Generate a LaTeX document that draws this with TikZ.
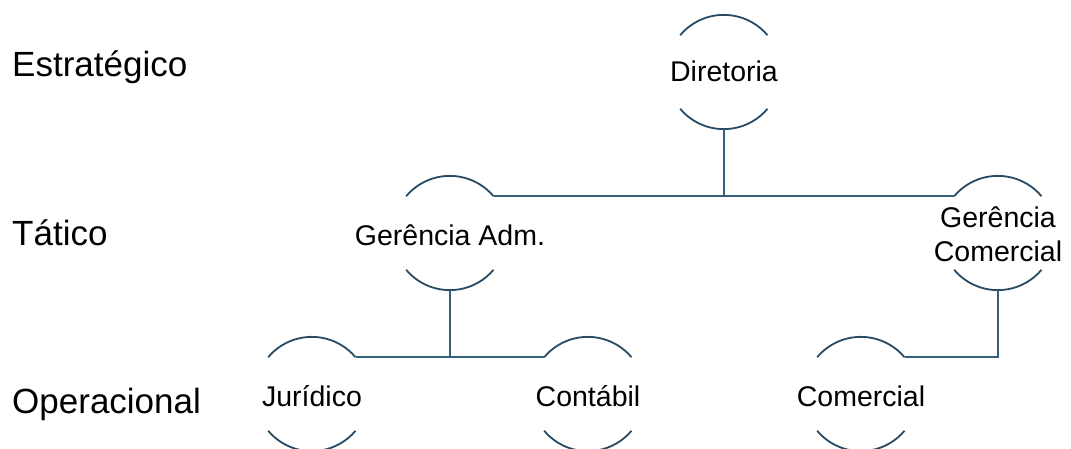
\documentclass[tikz,border=0pt]{standalone}
\usepackage{fontspec}
\setmainfont{Liberation Sans}
\definecolor{lnc}{RGB}{52,96,124}
\definecolor{arcc}{RGB}{40,74,98}
\tikzset{
  unit/.style={circle, minimum size=114pt, inner sep=0pt, draw=none},
  arcline/.style={draw=arcc, line width=1.8pt},
  conn/.style={draw=lnc, line width=2.1pt},
  lvl/.style={anchor=base west, inner sep=0pt, font=\fontsize{35}{40}\selectfont},
  utxt/.style={anchor=base, inner sep=0pt, font=\fontsize{28.5}{34}\selectfont, align=center},
}
\newcommand{\unitarcs}[1]{%
  \draw[arcline] (#1.140) arc[start angle=140, end angle=40, radius=57pt];
  \draw[arcline] (#1.220) arc[start angle=220, end angle=320, radius=57pt];
}
\begin{document}
\begin{tikzpicture}[x=1pt,y=1pt]
\useasboundingbox (0,0) rectangle (1071,448);
\clip (0,0) rectangle (1071,448);
% level labels
\node[lvl] (l1) at (12,371) {Estratégico};
\node[lvl] (l2) at (12,203) {Tático};
\node[lvl] (l3) at (12,35) {Operacional};
% units
\node[unit] (dir) at (724,376) {};
\node[unit] (adm) at (450,215) {};
\node[unit] (gcom) at (998,215) {};
\node[unit] (jur) at (312,54) {};
\node[unit] (cont) at (588,54) {};
\node[unit] (comr) at (861,54) {};
\foreach \n in {dir,adm,gcom,jur,cont,comr}{\unitarcs{\n}}
% texts
\node[utxt] (tdir) at ([yshift=-10pt]dir.center) {Diretoria};
\node[utxt] (tadm) at ([yshift=-12pt]adm.center) {Gerência Adm.};
\node[utxt, anchor=center] (tgcom) at ([yshift=-1pt]gcom.center) {Gerência\\Comercial};
\node[utxt] (tjur) at ([yshift=-12pt]jur.center) {Jurídico};
\node[utxt] (tcont) at ([yshift=-12pt]cont.center) {Contábil};
\node[utxt] (tcomr) at ([yshift=-12pt]comr.center) {Comercial};
% connectors
\draw[conn] (dir.south) -- (dir.south |- adm.40);
\draw[conn] (adm.40) -- (gcom.140);
\draw[conn] (adm.south) -- (adm.south |- jur.40);
\draw[conn] (jur.40) -- (cont.140);
\draw[conn] (gcom.south) |- (comr.40);
\end{tikzpicture}
\end{document}
